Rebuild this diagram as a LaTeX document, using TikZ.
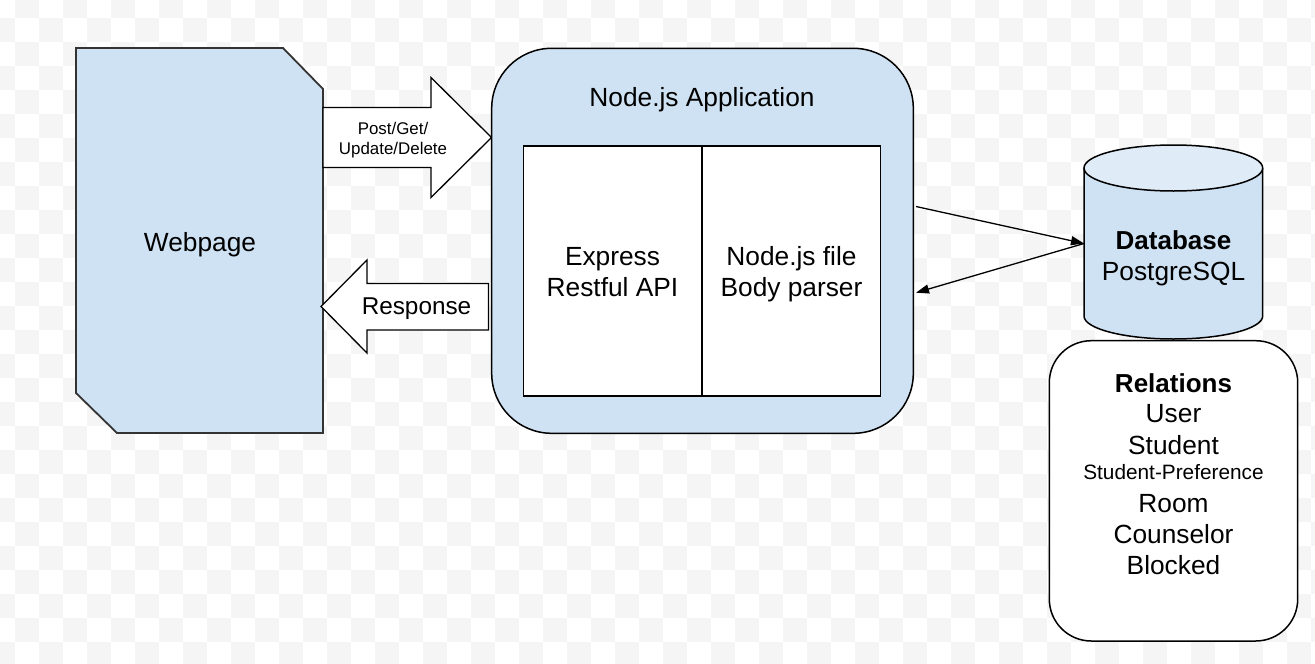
\documentclass[tikz,border=0pt]{standalone}
\usepackage{fontspec}
\setmainfont{Liberation Sans}
\usetikzlibrary{arrows.meta}
\definecolor{fillblue}{RGB}{207,226,243}
\definecolor{topblue}{RGB}{223,235,247}
\definecolor{checker}{RGB}{245,245,245}
\definecolor{edgegray}{RGB}{51,51,51}
\begin{document}
\begin{tikzpicture}[x=1pt,y=-1pt,
  outline/.style={draw=black, line width=1.5pt, line join=miter},
  big/.style={inner sep=0pt, align=center, font=\fontsize{26.3}{31}\selectfont},
  oneline/.style={big, text height=19pt, text depth=0pt},
  twoline/.style={big, text height=50pt, text depth=0pt},
  conn/.style={draw=black, line width=1.3pt, -{Triangle[length=13pt,width=9pt]}},
]
\useasboundingbox (0,0) rectangle (1315,664);
% checkerboard background
\begin{scope}
\clip (0,0) rectangle (1315,664);
\foreach \i in {-1,...,54}{
  \foreach \j in {0,...,28}{
    \pgfmathtruncatemacro\m{mod(\i+\j+2,2)}
    \ifnum\m=0
      \fill[checker] ({15+24*\i},{-6+24*\j}) rectangle ++(24,24);
    \fi
  }
}
\end{scope}

% Webpage
\draw[fill=fillblue, draw=edgegray, line width=1.8pt, line join=miter]
  (76,48) -- (283,48) -- (323,89) -- (323,433) -- (117,433) -- (76,393) -- cycle;
\node[oneline] (web) at (200,242) {Webpage};

% Post arrow
\draw[outline, line width=1.3pt, fill=white]
  (323,107.5) -- (431,107.5) -- (431,77.5) -- (491.5,137.5) -- (431,197.5) -- (431,167.5) -- (323,167.5) -- cycle;
\node[inner sep=0pt, align=center, font=\fontsize{16.9}{20}\selectfont, text height=32.2pt, text depth=0pt]
  (postlbl) at (393,138) {Post/Get/\\Update/Delete};

% Response arrow
\draw[outline, line width=1.3pt, fill=white]
  (488.5,283.5) -- (367,283.5) -- (367,260) -- (321,306.5) -- (367,353) -- (367,330) -- (488.5,330) -- cycle;
\node[inner sep=0pt, font=\fontsize{24.3}{29}\selectfont, text height=17.4pt, text depth=0pt]
  (resp) at (416.5,306) {Response};

% Node.js application
\node[outline, fill=fillblue, rounded corners=60pt, minimum width=421.6pt, minimum height=385pt, inner sep=0pt]
  (app) at (702.5,240.8) {};
\node[oneline] (apptitle) at (702,97) {Node.js Application};
\node[outline, fill=white, minimum width=178.7pt, minimum height=250pt, inner sep=0pt]
  (expr) at (612.65,271) {};
\node[outline, fill=white, minimum width=178.7pt, minimum height=250pt, inner sep=0pt]
  (body) at (791.35,271) {};
\node[twoline] (exprlbl) at (612.5,271.5) {Express\\Restful API};
\node[twoline] (bodylbl) at (791.5,271.5) {Node.js file\\Body parser};

% Database cylinder
\path[fill=fillblue, draw=black, line width=1.5pt]
  (1084,168) -- (1084,316) arc[start angle=180, end angle=0, x radius=89.35, y radius=23] -- (1262.7,168);
\draw[fill=topblue, line width=1.5pt] (1173.35,168) ellipse [x radius=89.35, y radius=23];
\node[oneline, font=\fontsize{26}{31}\selectfont\bfseries] (dbtitle) at (1173.5,240) {Database};
\node[oneline] (dbname) at (1173.5,271) {PostgreSQL};
\coordinate (dbw) at (1084,243.5);

% Connectors
\coordinate (a1) at (916,206.5);
\coordinate (a2) at (916,292.7);
\draw[conn] (a1) -- (dbw);
\draw[conn] (dbw) -- (a2);

% Relations box
\node[outline, fill=white, rounded corners=42pt, minimum width=248.4pt, minimum height=300.3pt, inner sep=0pt]
  (rel) at (1173.5,490.85) {};
\node[oneline, font=\fontsize{26}{31}\selectfont\bfseries] (r1) at (1173.5,383) {Relations};
\node[oneline] (r2) at (1173.5,413) {User};
\node[oneline] (r3) at (1173.5,445) {Student};
\node[inner sep=0pt, font=\fontsize{20.8}{25}\selectfont, text height=15pt, text depth=0pt] (r4) at (1173.5,472) {Student-Preference};
\node[oneline] (r5) at (1173.5,502.5) {Room};
\node[oneline] (r6) at (1173.5,534) {Counselor};
\node[oneline] (r7) at (1173.5,565) {Blocked};
\end{tikzpicture}
\end{document}
